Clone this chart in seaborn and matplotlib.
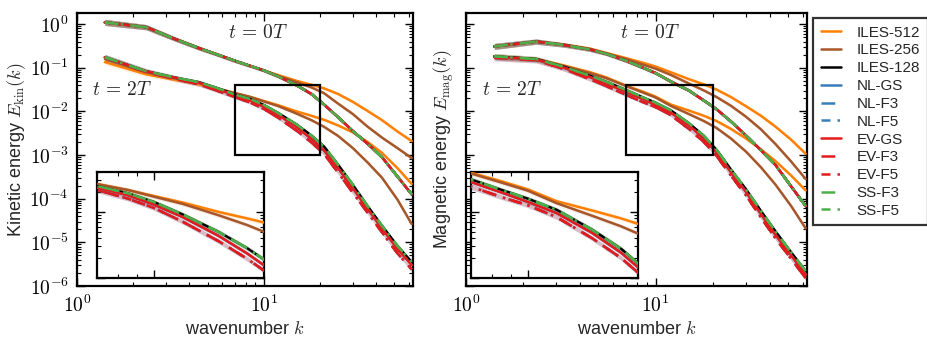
import numpy as np
import pandas as pd
import matplotlib
matplotlib.use("Agg")
import matplotlib.pyplot as plt
from matplotlib.patches import Rectangle
from matplotlib.ticker import FuncFormatter
import seaborn as sns

# ---------------- data (energies stored as log10) -------------
k = [1.41, 2.35, 3.3, 4.5, 5.5, 7, 8.5, 10, 12, 15, 18, 21, 25, 30, 36, 43, 52, 62]

# kinetic energy, t = 0T
kin_t0_les = [0.04, -0.07, -0.33, -0.55, -0.68, -0.84, -0.96, -1.06, -1.20, -1.40, -1.60, -1.84, -2.13, -2.45, -2.74, -3.05, -3.49, -3.90]
kin_t0_512 = [0.04, -0.07, -0.33, -0.55, -0.68, -0.84, -0.96, -1.06, -1.17, -1.30, -1.39, -1.47, -1.60, -1.78, -1.99, -2.20, -2.46, -2.68]
kin_t0_256 = [0.04, -0.07, -0.33, -0.55, -0.68, -0.84, -0.96, -1.06, -1.19, -1.33, -1.45, -1.58, -1.82, -2.06, -2.35, -2.60, -2.84, -3.07]
# kinetic energy, t = 2T
kin_t2_512 = [-0.87, -1.15, -1.27, -1.38, -1.47, -1.58, -1.67, -1.76, -1.86, -2.00, -2.10, -2.19, -2.32, -2.48, -2.70, -2.95, -3.30, -3.66]
kin_t2_256 = [-0.80, -1.10, -1.24, -1.35, -1.46, -1.58, -1.67, -1.77, -1.88, -2.05, -2.20, -2.35, -2.56, -2.84, -3.17, -3.52, -4.02, -4.58]
kin_t2_128 = [-0.76, -1.08, -1.22, -1.33, -1.45, -1.61, -1.72, -1.85, -2.04, -2.30, -2.55, -2.80, -3.22, -3.68, -4.17, -4.62, -5.08, -5.45]
kin_t2_gs = [-0.76, -1.08, -1.22, -1.34, -1.47, -1.63, -1.75, -1.89, -2.08, -2.36, -2.63, -2.89, -3.30, -3.76, -4.23, -4.68, -5.15, -5.52]
kin_t2_flt = [-0.77, -1.10, -1.25, -1.38, -1.51, -1.67, -1.80, -1.94, -2.15, -2.44, -2.71, -2.97, -3.40, -3.86, -4.32, -4.77, -5.25, -5.62]

# magnetic energy, t = 0T
mag_t0_les = [-0.51, -0.40, -0.48, -0.58, -0.68, -0.84, -0.99, -1.12, -1.31, -1.52, -1.75, -1.95, -2.23, -2.55, -2.89, -3.23, -3.72, -4.17]
mag_t0_512 = [-0.51, -0.40, -0.47, -0.56, -0.66, -0.78, -0.88, -0.97, -1.10, -1.26, -1.38, -1.50, -1.67, -1.88, -2.10, -2.35, -2.65, -2.97]
mag_t0_256 = [-0.51, -0.40, -0.47, -0.57, -0.67, -0.80, -0.92, -1.02, -1.16, -1.36, -1.52, -1.67, -1.87, -2.12, -2.41, -2.75, -3.15, -3.55]
# magnetic energy, t = 2T
mag_t2_512 = [-0.74, -0.80, -0.95, -1.10, -1.22, -1.41, -1.54, -1.66, -1.84, -1.98, -2.10, -2.22, -2.40, -2.62, -2.87, -3.14, -3.47, -3.81]
mag_t2_256 = [-0.74, -0.80, -0.96, -1.12, -1.24, -1.42, -1.56, -1.68, -1.87, -2.06, -2.22, -2.38, -2.62, -2.92, -3.28, -3.68, -4.17, -4.68]
mag_t2_128 = [-0.74, -0.80, -0.98, -1.18, -1.32, -1.51, -1.67, -1.80, -1.97, -2.27, -2.56, -2.88, -3.33, -3.78, -4.28, -4.75, -5.23, -5.66]
mag_t2_gs = [-0.75, -0.81, -1.00, -1.21, -1.36, -1.55, -1.71, -1.85, -2.02, -2.32, -2.62, -2.94, -3.39, -3.84, -4.35, -4.83, -5.30, -5.74]
mag_t2_flt = [-0.77, -0.83, -1.03, -1.26, -1.42, -1.62, -1.78, -1.90, -2.08, -2.40, -2.70, -3.02, -3.47, -3.92, -4.43, -4.91, -5.38, -5.82]

# half-width of the shaded spread (dex)
spread = [0.07, 0.06, 0.05, 0.045, 0.04, 0.04, 0.035, 0.035, 0.035, 0.035, 0.035, 0.035, 0.035, 0.035, 0.035, 0.035, 0.035, 0.035]

labels = ["ILES-512", "ILES-256", "ILES-128", "NL-GS", "NL-F3", "NL-F5",
          "EV-GS", "EV-F3", "EV-F5", "SS-F3", "SS-F5"]

kin_series = {
    "ILES-512": (kin_t0_512, kin_t2_512), "ILES-256": (kin_t0_256, kin_t2_256),
    "ILES-128": (kin_t0_les, kin_t2_128),
    "NL-GS": (kin_t0_les, kin_t2_gs), "NL-F3": (kin_t0_les, kin_t2_flt), "NL-F5": (kin_t0_les, kin_t2_flt),
    "EV-GS": (kin_t0_les, kin_t2_gs), "EV-F3": (kin_t0_les, kin_t2_flt), "EV-F5": (kin_t0_les, kin_t2_flt),
    "SS-F3": (kin_t0_les, kin_t2_128), "SS-F5": (kin_t0_les, kin_t2_128),
}
mag_series = {
    "ILES-512": (mag_t0_512, mag_t2_512), "ILES-256": (mag_t0_256, mag_t2_256),
    "ILES-128": (mag_t0_les, mag_t2_128),
    "NL-GS": (mag_t0_les, mag_t2_gs), "NL-F3": (mag_t0_les, mag_t2_flt), "NL-F5": (mag_t0_les, mag_t2_flt),
    "EV-GS": (mag_t0_les, mag_t2_gs), "EV-F3": (mag_t0_les, mag_t2_flt), "EV-F5": (mag_t0_les, mag_t2_flt),
    "SS-F3": (mag_t0_les, mag_t2_128), "SS-F5": (mag_t0_les, mag_t2_128),
}

# ---------------- style ----------------
ORANGE, BROWN, BLACK = "#ff7f00", "#a65628", "#000000"
BLUE, RED, GREEN = "#377eb8", "#e41a1c", "#4daf4a"
SOLID, DASH, DASHDOT = "-", (0, (5.5, 5.5)), (0, (3.6, 2.8, 1.0, 2.8))
styles = {
    "ILES-512": (ORANGE, SOLID), "ILES-256": (BROWN, SOLID), "ILES-128": (BLACK, SOLID),
    "NL-GS": (BLUE, SOLID), "NL-F3": (BLUE, DASH), "NL-F5": (BLUE, DASHDOT),
    "EV-GS": (RED, SOLID), "EV-F3": (RED, DASH), "EV-F5": (RED, DASHDOT),
    "SS-F3": (GREEN, DASH), "SS-F5": (GREEN, DASHDOT),
}

sns.set_theme(style="ticks")
plt.rcParams.update({
    "font.family": ["Liberation Sans", "DejaVu Sans"],
    "mathtext.fontset": "cm",
    "axes.linewidth": 1.6,
    "axes.edgecolor": "black",
    "xtick.direction": "in", "ytick.direction": "in",
    "xtick.top": True, "ytick.right": True,
    "xtick.major.size": 6, "ytick.major.size": 6,
    "xtick.minor.size": 3, "ytick.minor.size": 3,
    "xtick.major.width": 1.0, "ytick.major.width": 1.0,
    "xtick.minor.width": 0.8, "ytick.minor.width": 0.8,
    "xtick.minor.visible": True, "ytick.minor.visible": True,
    "xtick.color": "black", "ytick.color": "black",
})

fig = plt.figure(figsize=(9.27, 3.44), dpi=100)
W, H = 927.0, 344.0
ax_l = fig.add_axes([77 / W, 1 - 286 / H, 336 / W, 273 / H])
ax_r = fig.add_axes([466 / W, 1 - 286 / H, 341 / W, 273 / H])
in_l = fig.add_axes([97 / W, 1 - 278 / H, 167 / W, 106 / H])
in_r = fig.add_axes([471 / W, 1 - 278 / H, 167 / W, 106 / H])

XLIM = (1, 63)
YLIM = (1e-6, 1.8)
BOX_X = (7, 20)
BOX_Y = (1e-3, 4e-2)

pow10 = FuncFormatter(lambda v, pos: r"$10^{%d}$" % int(round(np.log10(v))) if v > 0 else "")


def draw(ax, series, with_labels, times=(0, 1)):
    for lab in labels:
        color, ls = styles[lab]
        for idx in times:
            logE = series[lab][idx]
            E = np.power(10.0, np.asarray(logE))
            s = np.asarray(spread)
            ax.fill_between(k, E * 10 ** (-s), E * 10 ** s, color=color,
                            alpha=0.10, lw=0, zorder=1)
            sns.lineplot(x=k, y=E, ax=ax, color=color, linestyle=ls, linewidth=1.8,
                         estimator=None, sort=False, zorder=3,
                         label=(lab if (with_labels and idx == 0) else None),
                         legend=False)
    ax.set_xscale("log")
    ax.set_yscale("log")


for ax, ins, series in [(ax_l, in_l, kin_series), (ax_r, in_r, mag_series)]:
    draw(ax, series, ax is ax_l)
    ax.set_xlim(*XLIM)
    ax.set_ylim(*YLIM)
    ax.add_patch(Rectangle((BOX_X[0], BOX_Y[0]), BOX_X[1] - BOX_X[0], BOX_Y[1] - BOX_Y[0],
                           fill=False, edgecolor="black", lw=1.6, zorder=5))
    ax.set_xlabel("wavenumber $k$", fontsize=13)
    ax.xaxis.set_major_formatter(pow10)
    ax.yaxis.set_major_formatter(pow10)
    ax.tick_params(axis="both", which="major", labelsize=14, pad=6)
    draw(ins, series, False, times=(1,))
    ins.set_xlim(*BOX_X)
    ins.set_ylim(*BOX_Y)
    ins.set_xticklabels([], minor=True)
    ins.set_xticklabels([])
    ins.set_yticklabels([], minor=True)
    ins.set_yticklabels([])
    ins.set_xlabel("")
    ins.set_ylabel("")
    ins.set_facecolor("white")
    for sp in ins.spines.values():
        sp.set_linewidth(1.6)
    ins.set_zorder(10)

ax_l.set_ylabel(r"Kinetic energy $E_{\rm kin}(k)$", fontsize=13)
ax_r.set_ylabel(r"Magnetic energy $E_{\rm mag}(k)$", fontsize=13)
ax_r.set_yticklabels([])
ax_r.set_yticklabels([], minor=True)
ax_l.yaxis.set_label_coords(-0.145, 0.5)
ax_r.yaxis.set_label_coords(-0.03, 0.5)

for ax in (ax_l, ax_r):
    ax.text(0.54, 0.925, r"$t\,=\,0T$", transform=ax.transAxes, fontsize=14,
            ha="center", va="center")
    ax.text(0.135, 0.718, r"$t\,=\,2T$", transform=ax.transAxes, fontsize=14,
            ha="center", va="center")

handles, labs = ax_l.get_legend_handles_labels()
leg = fig.legend(handles, labs, loc="upper left", bbox_to_anchor=(813 / W, 1 - 18 / H),
                 fontsize=11, frameon=True, fancybox=False, edgecolor="black",
                 handlelength=1.35, handletextpad=1.0, labelspacing=0.25,
                 borderpad=0.5, borderaxespad=0.0)
leg.get_frame().set_linewidth(1.6)

fig.savefig("out.png", dpi=100)
